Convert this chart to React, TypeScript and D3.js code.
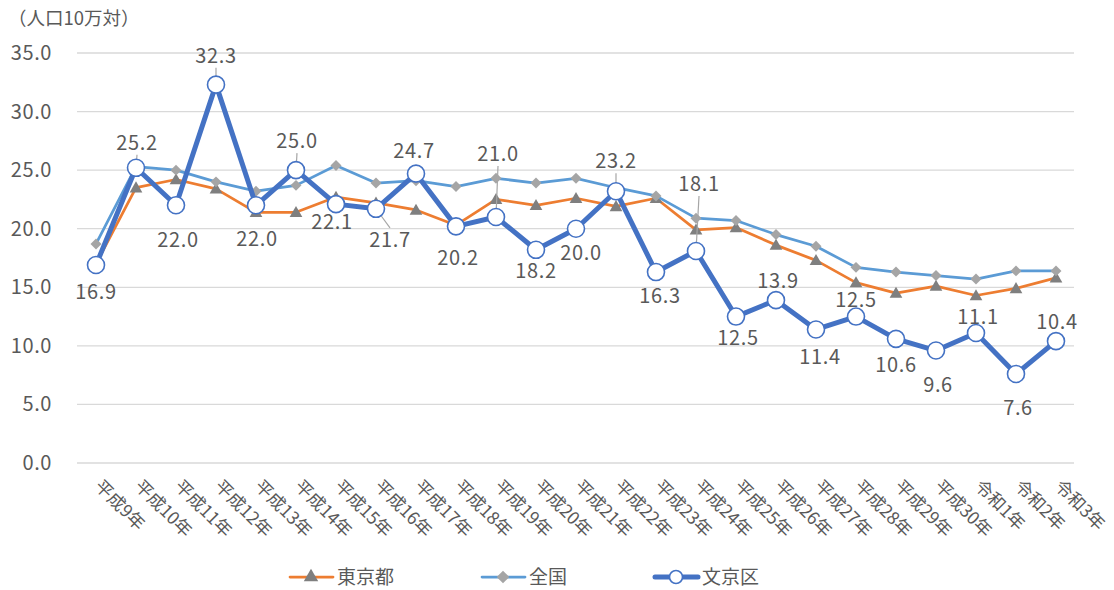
import React, { useEffect, useRef } from 'react';
import * as d3 from 'd3';

// 年次
const categories = [
  '平成9年', '平成10年', '平成11年', '平成12年', '平成13年', '平成14年', '平成15年',
  '平成16年', '平成17年', '平成18年', '平成19年', '平成20年', '平成21年', '平成22年',
  '平成23年', '平成24年', '平成25年', '平成26年', '平成27年', '平成28年', '平成29年',
  '平成30年', '令和1年', '令和2年', '令和3年',
];

// 人口10万対
const tokyo = [
  17.0, 23.5, 24.2, 23.4, 21.4, 21.4, 22.7, 22.2, 21.6, 20.3, 22.5, 22.0, 22.6,
  21.9, 22.6, 19.9, 20.1, 18.6, 17.3, 15.4, 14.5, 15.1, 14.3, 14.9, 15.8,
];
const national = [
  18.7, 25.3, 25.0, 24.0, 23.2, 23.7, 25.4, 23.9, 24.1, 23.6, 24.3, 23.9, 24.3,
  23.5, 22.8, 20.9, 20.7, 19.5, 18.5, 16.7, 16.3, 16.0, 15.7, 16.4, 16.4,
];
const bunkyo = [
  16.9, 25.2, 22.0, 32.3, 22.0, 25.0, 22.1, 21.7, 24.7, 20.2, 21.0, 18.2, 20.0,
  23.2, 16.3, 18.1, 12.5, 13.9, 11.4, 12.5, 10.6, 9.6, 11.1, 7.6, 10.4,
];

const yTicks = [0, 5, 10, 15, 20, 25, 30, 35];

// data label placement for 文京区 (offset from the point, px)
const labelOffsets = [
  [0, 27], [1, -25], [2, 35], [0, -29], [1, 34], [1, -29], [-4, 18], [14, 31],
  [-2, -23], [2, 32], [2, -63], [0, 21], [5, 24], [0, -30], [4, 24], [3, -67],
  [2, 21], [2, -19], [4, 28], [0, -17], [0, 26], [2, 34], [2, -16], [2, 34], [1, -19],
];
const leaderIdx = [1, 3, 5, 7, 10, 13, 15];

const FONT = '"Noto Sans CJK JP", "Noto Sans", sans-serif';
const TEXT = '#595959';

export default function App() {
  const ref = useRef<HTMLDivElement>(null);

  useEffect(() => {
    const el = ref.current;
    if (!el) return;
    d3.select(el).selectAll('*').remove();

    const width = 1114;
    const height = 590;
    const margin = { left: 76, right: 40, top: 53, bottom: 127 };

    const svg = d3.select(el)
      .append('svg')
      .attr('width', width)
      .attr('height', height)
      .style('font-family', FONT)
      .style('display', 'block');

    svg.append('rect').attr('width', width).attr('height', height).attr('fill', '#fff');

    const x = d3.scaleBand<string>()
      .domain(categories)
      .range([margin.left, width - margin.right + 2]);
    const cx = (i: number) => (x(categories[i]) as number) + x.bandwidth() / 2;

    const y = d3.scaleLinear()
      .domain([0, 35])
      .range([height - margin.bottom, margin.top]);

    // gridlines
    svg.append('g')
      .selectAll('line')
      .data(yTicks)
      .enter()
      .append('line')
      .attr('x1', margin.left + 1)
      .attr('x2', width - margin.right)
      .attr('y1', (d) => y(d))
      .attr('y2', (d) => y(d))
      .attr('stroke', '#d9d9d9')
      .attr('stroke-width', 1.3);

    // y tick labels
    svg.append('g')
      .selectAll('text')
      .data(yTicks)
      .enter()
      .append('text')
      .attr('x', 52)
      .attr('y', (d) => y(d))
      .attr('dy', '0.35em')
      .attr('text-anchor', 'end')
      .attr('font-size', 20)
      .attr('letter-spacing', 0.6)
      .attr('fill', TEXT)
      .text((d) => d.toFixed(1));

    // unit
    svg.append('text')
      .attr('x', 8)
      .attr('y', 25)
      .attr('font-size', 18.5)
      .attr('fill', TEXT)
      .text('（人口10万対）');

    // x labels, rotated
    svg.append('g')
      .selectAll('text')
      .data(categories)
      .enter()
      .append('text')
      .attr('transform', (d, i) => `translate(${cx(i) + 1},${height - margin.bottom + 21}) rotate(45)`)
      .attr('dominant-baseline', 'middle')
      .attr('font-size', 17.5)
      .attr('fill', TEXT)
      .text((d) => d);

    const line = d3.line<number>()
      .x((d, i) => cx(i))
      .y((d) => y(d));

    const tri = d3.symbol().type(d3.symbolTriangle).size(70);
    const dia = d3.symbol().type(d3.symbolSquare).size(60);

    // 東京都
    svg.append('path')
      .datum(tokyo)
      .attr('d', line)
      .attr('fill', 'none')
      .attr('stroke', '#ed7d31')
      .attr('stroke-width', 2.75)
      .attr('stroke-linejoin', 'round');
    svg.append('g')
      .selectAll('path')
      .data(tokyo)
      .enter()
      .append('path')
      .attr('d', tri as any)
      .attr('transform', (d, i) => `translate(${cx(i)},${y(d) + 1})`)
      .attr('fill', '#7f7f7f');

    // 全国
    svg.append('path')
      .datum(national)
      .attr('d', line)
      .attr('fill', 'none')
      .attr('stroke', '#5b9bd5')
      .attr('stroke-width', 2.75)
      .attr('stroke-linejoin', 'round');
    svg.append('g')
      .selectAll('path')
      .data(national)
      .enter()
      .append('path')
      .attr('d', dia as any)
      .attr('transform', (d, i) => `translate(${cx(i)},${y(d)}) rotate(45)`)
      .attr('fill', '#a5a5a5');

    // leader lines
    svg.append('g')
      .selectAll('line')
      .data(leaderIdx)
      .enter()
      .append('line')
      .each(function (i) {
        const px = cx(i);
        const py = y(bunkyo[i]);
        const [dx, dy] = labelOffsets[i];
        const lx = px + dx;
        const ly = py + dy;
        const dirY = dy < 0 ? -1 : 1;
        const endY = ly - dirY * 12;
        const len = Math.hypot(lx - px, endY - py);
        const ux = (lx - px) / len;
        const uy = (endY - py) / len;
        d3.select(this)
          .attr('x1', px + ux * 8)
          .attr('y1', py + uy * 8)
          .attr('x2', lx)
          .attr('y2', endY);
      })
      .attr('stroke', '#a6a6a6')
      .attr('stroke-width', 1.2);

    // 文京区
    svg.append('path')
      .datum(bunkyo)
      .attr('d', line)
      .attr('fill', 'none')
      .attr('stroke', '#4472c4')
      .attr('stroke-width', 5)
      .attr('stroke-linejoin', 'round');
    svg.append('g')
      .selectAll('circle')
      .data(bunkyo)
      .enter()
      .append('circle')
      .attr('cx', (d, i) => cx(i))
      .attr('cy', (d) => y(d))
      .attr('r', 8.5)
      .attr('fill', '#fff')
      .attr('stroke', '#4472c4')
      .attr('stroke-width', 1.6);

    // data labels
    svg.append('g')
      .selectAll('text')
      .data(bunkyo)
      .enter()
      .append('text')
      .attr('x', (d, i) => cx(i) + labelOffsets[i][0])
      .attr('y', (d, i) => y(d) + labelOffsets[i][1])
      .attr('dy', '0.35em')
      .attr('text-anchor', 'middle')
      .attr('font-size', 20)
      .attr('letter-spacing', 0.6)
      .attr('fill', TEXT)
      .text((d) => d.toFixed(1));

    // legend
    const legendY = 577;
    const legend = [
      { name: '東京都', color: '#ed7d31', x: 290, w: 2.75, mark: 'tri' },
      { name: '全国', color: '#5b9bd5', x: 482, w: 2.75, mark: 'dia' },
      { name: '文京区', color: '#4472c4', x: 655, w: 5, mark: 'circle' },
    ];
    const lg = svg.append('g')
      .selectAll('g')
      .data(legend)
      .enter()
      .append('g')
      .attr('transform', (d) => `translate(${d.x},${legendY})`);
    lg.append('line')
      .attr('x1', 0)
      .attr('x2', 43)
      .attr('stroke', (d) => d.color)
      .attr('stroke-width', (d) => d.w)
      .attr('stroke-linecap', 'round');
    const triL = d3.symbol().type(d3.symbolTriangle).size(90);
    const diaL = d3.symbol().type(d3.symbolSquare).size(80);
    lg.each(function (d) {
      const g = d3.select(this);
      if (d.mark === 'tri') {
        g.append('path').attr('d', triL as any).attr('transform', 'translate(21,0)').attr('fill', '#7f7f7f');
      } else if (d.mark === 'dia') {
        g.append('path').attr('d', diaL as any).attr('transform', 'translate(21,0) rotate(45)').attr('fill', '#a5a5a5');
      } else {
        g.append('circle').attr('cx', 21).attr('r', 6.5).attr('fill', '#fff')
          .attr('stroke', '#4472c4').attr('stroke-width', 1.6);
      }
    });
    lg.append('text')
      .attr('x', 47)
      .attr('dy', '0.35em')
      .attr('font-size', 19)
      .attr('fill', TEXT)
      .text((d) => d.name);
  }, []);

  return (
    <div style={{ position: 'absolute', left: 0, top: 0 }}>
      <div ref={ref}></div>
    </div>
  );
}
